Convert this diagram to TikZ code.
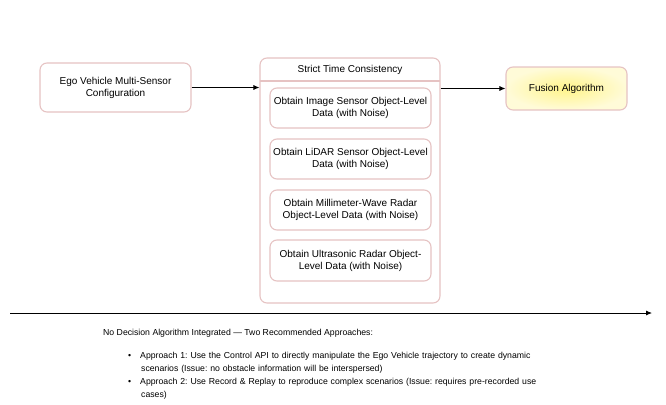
\documentclass[tikz,border=0pt]{standalone}
\usepackage{fontspec}
\setmainfont{Liberation Sans}
\usetikzlibrary{arrows.meta}
\frenchspacing
\definecolor{bord}{HTML}{E6C3C3}
\definecolor{yelc}{HTML}{FFF48A}
\definecolor{yele}{HTML}{FFFBD8}
\tikzset{
  rbox/.style={draw=bord, line width=1.1pt, rounded corners=7pt, fill=white, align=center, inner sep=0pt, font=\fontsize{10}{12}\selectfont},
  conn/.style={-{Latex[length=6pt,width=5pt]}, line width=0.8pt, black},
}
\begin{document}
\begin{tikzpicture}[x=1pt,y=-1pt]
\useasboundingbox (0,0) rectangle (666,404);
\node[rbox, minimum width=151pt, minimum height=49pt] (ego) at (115.5,87.5) {Ego Vehicle Multi-Sensor\\Configuration};
\node[rbox, minimum width=180pt, minimum height=245pt] (cont) at (350,180.5) {};
\draw[bord, line width=1.1pt] (260,81) -- (440,81);
\node[font=\fontsize{10}{12}\selectfont] (title) at (350,70) {Strict Time Consistency};
\node[rbox, minimum width=161pt, minimum height=40pt] (b1) at (350.5,108) {Obtain Image Sensor Object-Level\\Data (with Noise)};
\node[rbox, minimum width=161pt, minimum height=40pt] (b2) at (350.5,159) {Obtain LiDAR Sensor Object-Level\\Data (with Noise)};
\node[rbox, minimum width=161pt, minimum height=40pt] (b3) at (350.5,210) {Obtain Millimeter-Wave Radar\\Object-Level Data (with Noise)};
\node[rbox, minimum width=161pt, minimum height=41pt] (b4) at (350.5,260.5) {Obtain Ultrasonic Radar Object-\\Level Data (with Noise)};
\node[rbox, inner color=yelc, outer color=yele, minimum width=121pt, minimum height=43pt] (fus) at (566.5,88.5) {Fusion Algorithm};
\draw[conn] (ego.east) -- (cont.west |- ego.east);
\draw[conn] (cont.east |- fus.west) -- (fus.west);
\coordinate (t0) at (10,313);
\coordinate (t1) at (652,313);
\draw[conn] (t0) -- (t1);
\node[anchor=west, inner sep=0pt, font=\fontsize{8.7}{11}\selectfont] (hd) at (103,333) {No Decision Algorithm Integrated — Two Recommended Approaches:};
\node[anchor=north west, inner sep=0pt, font=\fontsize{8.7}{13}\selectfont, text width=420pt, align=left] (list) at (128,352)
{\textbullet\hspace{9pt}Approach 1: Use the Control API to directly manipulate the Ego Vehicle trajectory to create dynamic\\
\hspace{13pt}scenarios (Issue: no obstacle information will be interspersed)\\
\textbullet\hspace{9pt}Approach 2: Use Record \& Replay to reproduce complex scenarios (Issue: requires pre-recorded use\\
\hspace{13pt}cases)};
\end{tikzpicture}
\end{document}
